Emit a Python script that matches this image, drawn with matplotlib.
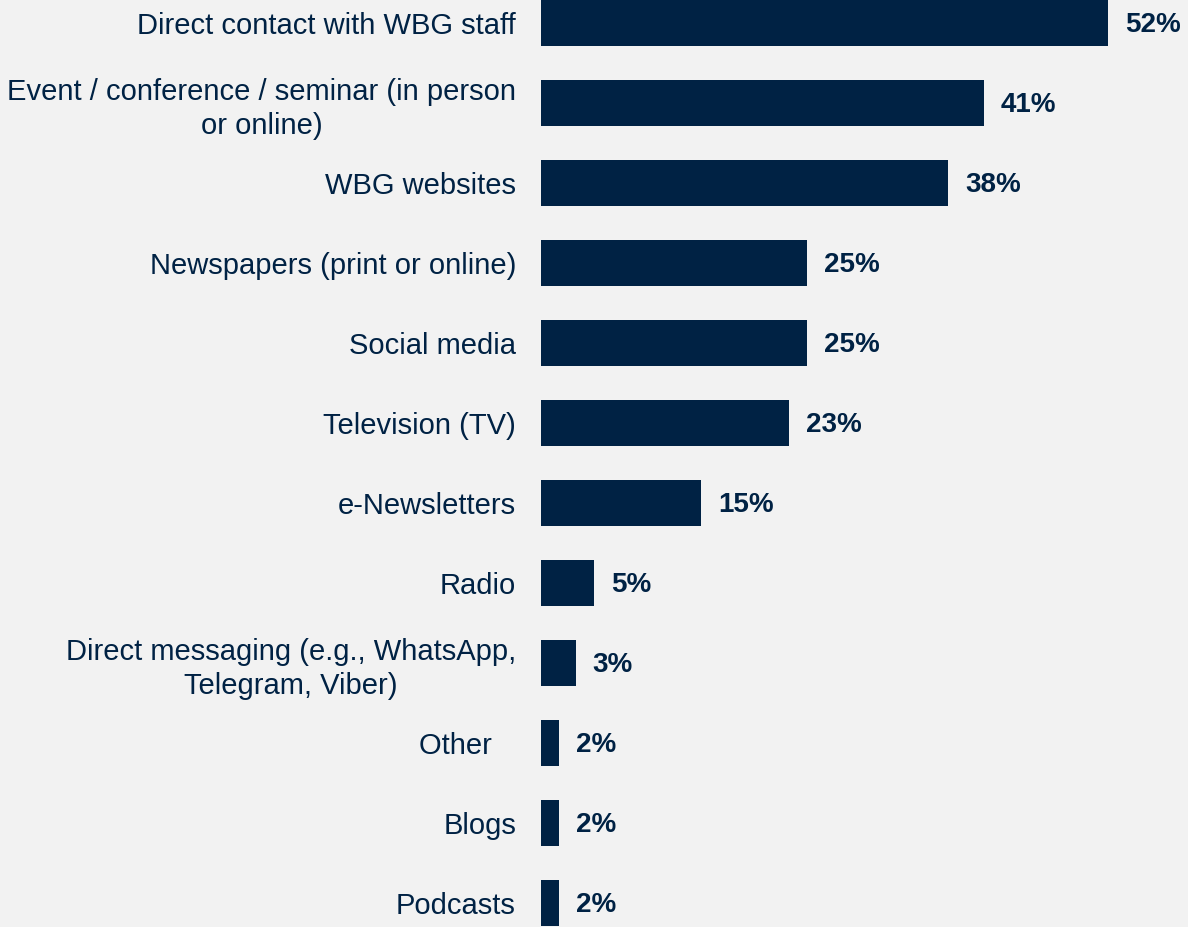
import matplotlib.pyplot as plt

plt.rcParams['font.family'] = ['Liberation Sans', 'DejaVu Sans']

CATEGORIES = [
    "Direct contact with WBG staff",
    "Event / conference / seminar (in person\nor online)",
    "WBG websites",
    "Newspapers (print or online)",
    "Social media",
    "Television (TV)",
    "e-Newsletters",
    "Radio",
    "Direct messaging (e.g., WhatsApp,\nTelegram, Viber)",
    "Other   ",
    "Blogs",
    "Podcasts",
]
# shares; labels as printed on the chart
VALUES = [52.5, 41.0, 37.7, 24.6, 24.6, 23.0, 14.8, 4.9, 3.2, 1.7, 1.7, 1.7]
VALUE_LABELS = ["52%", "41%", "38%", "25%", "25%", "23%", "15%", "5%", "3%", "2%", "2%", "2%"]

BG = "#F2F2F2"
NAVY = "#002244"

fig = plt.figure(figsize=(11.88, 9.27), dpi=100)
fig.patch.set_facecolor(BG)
ax = fig.add_axes([541 / 1188, 0, 1 - 541 / 1188, 1])
ax.set_facecolor(BG)

y = list(range(len(CATEGORIES)))
ax.barh(y, VALUES, height=0.58, color=NAVY)

for yi, v, lab in zip(y, VALUES, VALUE_LABELS):
    ax.annotate(lab, xy=(v, yi), xytext=(17, -2), textcoords="offset pixels",
                ha="left", va="center", fontsize=20, fontweight="bold", color=NAVY)

ax.set_yticks(y)
ax.set_yticklabels(CATEGORIES, fontsize=21, color=NAVY, ha="right",
                   multialignment="center", linespacing=1.25)
ax.tick_params(axis="y", length=0, pad=18)
ax.set_xticks([])
ax.set_xlim(0, 59.9)
ax.set_ylim(11.3, -0.29)
for s in ax.spines.values():
    s.set_visible(False)

fig.savefig("out.png", dpi=100, facecolor=BG)
